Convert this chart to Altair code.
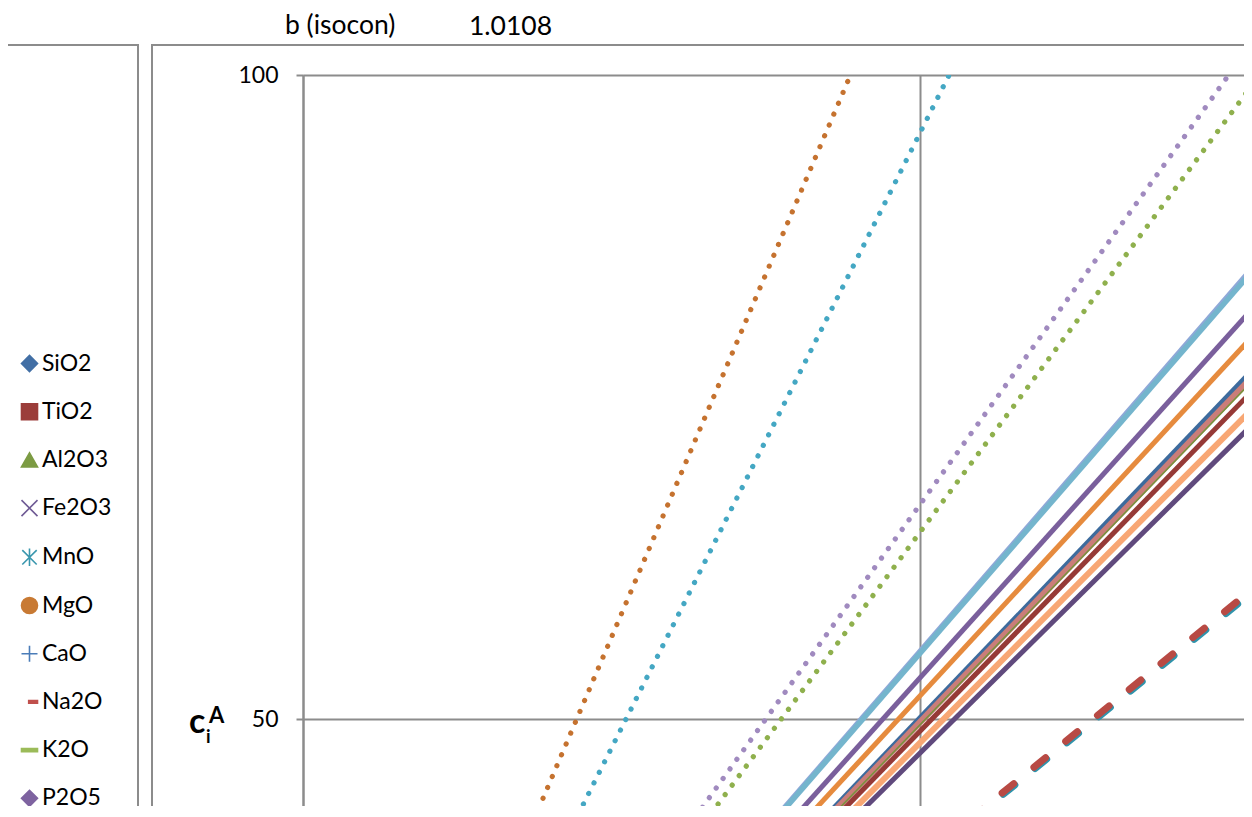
import altair as alt
import pandas as pd

# ---- isocon / reference lines (all pass through the origin) ----
line_ids = ["iso_lav", "iso_blue", "purple", "orange", "blue", "pink", "olive",
            "darkred", "peach", "darkpurple", "dot_orange", "dot_teal",
            "dot_purple", "dot_green", "dash_teal", "dash_red"]
line_colors = ["#8FA8D8", "#74B5CD", "#7A5F9C", "#E68B3E", "#3D6B9D", "#CA7D79",
               "#77933C", "#963A37", "#F8A774", "#604A7D", "#C5722F", "#44A7C3",
               "#A08ABF", "#8FB04D", "#2F93AB", "#B84A44"]
line_widths = [5.5, 5.5, 5, 5, 5, 6.5, 1.5, 5, 6, 5, 5.2, 5.2, 5.2, 5.2, 7, 7]
line_styles = ["solid", "solid", "solid", "solid", "solid", "solid", "solid",
               "solid", "solid", "solid", "dot", "dot", "dot", "dot", "dash", "dash"]
x_ends = [0, 100]
y_at_x0 = [0] * 16
y_at_x100 = [110.5, 110.2, 106.4, 103.6, 100.2, 99.5, 99.1, 98.1, 96.3, 94.7,
             225.4, 191.0, 133.3, 129.0, 77.8, 78.1]

# ---- legend series ----
legend_names = ["SiO2", "TiO2", "Al2O3", "Fe2O3", "MnO", "MgO", "CaO", "Na2O", "K2O", "P2O5"]
legend_colors = ["#426FA5", "#9B3D3A", "#7C9B43", "#6F5B95", "#3A97AE", "#C87A34",
                 "#4A7CB8", "#C0504D", "#9BBB59", "#7E63A0"]
legend_shapes = ["diamond", "square", "triangle-up",
                 "M-1,-1L1,1M-1,1L1,-1",
                 "M-0.9,-0.9L0.9,0.9M-0.9,0.9L0.9,-0.9M0,-1.1L0,1.1",
                 "circle",
                 "M-1,0L1,0M0,-1L0,1",
                 "M-0.1,-0.16L1,-0.16L1,0.16L-0.1,0.16Z",
                 "M-1,-0.2L1,-0.2L1,0.2L-1,0.2Z",
                 "diamond"]

header_label = "b (isocon)"
header_value = "1.0108"
y_ticks = [50, 100]
x_grid = [0, 50, 100]

FONT = "Lato"
GRID = "#8C8C8C"
W, H = 941, 731
X_MAX = 941 / 12.34
Y_MIN = 100 - 731 / 12.88

x_enc = alt.X("x:Q", scale=alt.Scale(domain=[0, X_MAX], nice=False, zero=False),
              axis=alt.Axis(values=x_grid, grid=True, labels=False, ticks=False,
                            domain=False, title=None, gridColor=GRID, gridWidth=2))
y_enc = alt.Y("y:Q", scale=alt.Scale(domain=[Y_MIN, 100], nice=False, zero=False),
              axis=alt.Axis(values=y_ticks, grid=True, gridColor=GRID, gridWidth=2,
                            domainColor=GRID, domainWidth=2, tickColor=GRID, tickWidth=2,
                            tickSize=7, labelFont=FONT, labelFontSize=23, labelColor="black",
                            labelPadding=18, title=None))

one = pd.DataFrame({"k": [0]})
layers = []

# frame lines (chart area / legend box borders)
frame = alt.Chart(one)
layers.append(frame.mark_rule(color=GRID, strokeWidth=2, clip=False).encode(
    x=alt.value(-151), x2=alt.value(W), y=alt.value(-30)))
layers.append(frame.mark_rule(color=GRID, strokeWidth=2, clip=False).encode(
    x=alt.value(-295), x2=alt.value(-165), y=alt.value(-30)))
layers.append(frame.mark_rule(color=GRID, strokeWidth=2, clip=False).encode(
    x=alt.value(-151), y=alt.value(-31), y2=alt.value(H)))
layers.append(frame.mark_rule(color=GRID, strokeWidth=2, clip=False).encode(
    x=alt.value(-165), y=alt.value(-31), y2=alt.value(H)))

for i, lid in enumerate(line_ids):
    df = pd.DataFrame({"x": x_ends, "y": [y_at_x0[i], y_at_x100[i]], "id": lid})
    kw = dict(color=line_colors[i], strokeWidth=line_widths[i], clip=True)
    if line_styles[i] == "dot":
        kw.update(strokeDash=[0.1, 11.7], strokeCap="round")
    elif line_styles[i] == "dash":
        kw.update(strokeDash=[15, 26], strokeCap="round")
    layer = alt.Chart(df).mark_line(**kw).encode(x=x_enc, y=y_enc)
    layers.append(layer)

# legend (driven by the series markers)
leg = alt.Legend(orient="none", legendX=-285, legendY=277, title=None,
                 labelFont=FONT, labelFontSize=23, labelColor="black",
                 symbolSize=256, symbolStrokeWidth=1.6, rowPadding=24.2, padding=0,
                 labelOffset=1, symbolOpacity=1, labelLimit=300)
legdf = pd.DataFrame({"name": legend_names})
layers.append(alt.Chart(legdf).mark_point(filled=True, size=256, strokeWidth=1.6).encode(
    fill=alt.Fill("name:N", scale=alt.Scale(domain=legend_names, range=legend_colors), legend=leg),
    stroke=alt.Stroke("name:N", scale=alt.Scale(domain=legend_names, range=legend_colors), legend=leg),
    shape=alt.Shape("name:N", scale=alt.Scale(domain=legend_names, range=legend_shapes), legend=leg),
    opacity=alt.value(0), x=alt.value(0), y=alt.value(0)))

# header text
layers.append(frame.mark_text(font=FONT, fontSize=26.5, align="left", baseline="alphabetic",
                              color="black").encode(
    x=alt.value(-18), y=alt.value(-41), text=alt.value(header_label)))
layers.append(frame.mark_text(font=FONT, fontSize=26.5, align="left", baseline="alphabetic",
                              color="black").encode(
    x=alt.value(166), y=alt.value(-40), text=alt.value(header_value)))

# y-axis title c_i^A
layers.append(frame.mark_text(font=FONT, fontSize=34, fontWeight="bold", align="left",
                              baseline="alphabetic", color="black").encode(
    x=alt.value(-114), y=alt.value(658), text=alt.value("c")))
layers.append(frame.mark_text(font=FONT, fontSize=18, fontWeight="bold", align="left",
                              baseline="alphabetic", color="black").encode(
    x=alt.value(-97), y=alt.value(668), text=alt.value("i")))
layers.append(frame.mark_text(font=FONT, fontSize=22, fontWeight="bold", align="left",
                              baseline="alphabetic", color="black").encode(
    x=alt.value(-94), y=alt.value(647.5), text=alt.value("A")))

chart = alt.layer(*layers).properties(
    width=W, height=H,
    padding={"left": 295, "top": 67, "right": 0, "bottom": 0},
    autosize=alt.AutoSizeParams(type="none"),
    background="white",
).configure_view(stroke=None)

chart.save("out.html", embed_options={"renderer": "svg", "actions": False})
